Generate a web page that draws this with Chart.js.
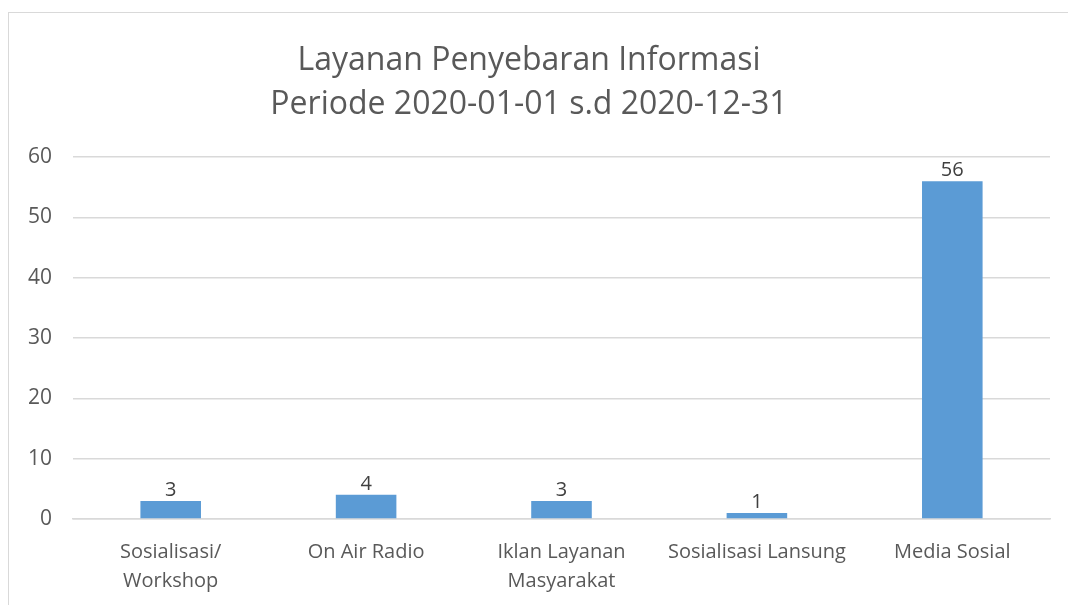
<!DOCTYPE html>
<html>
<head>
<meta charset="utf-8">
<title>Layanan Penyebaran Informasi</title>
<script src="https://cdn.jsdelivr.net/npm/chart.js@4"></script>
<style>
    html, body { margin: 0; padding: 0; background: #fff; }
    #wrap { width: 1068px; height: 605px; position: relative; }
</style>
</head>
<body>
<div id="wrap"><canvas id="infoChart" width="1068" height="605"></canvas></div>
<script>
const categories = [
    ['Sosialisasi/', 'Workshop'],
    'On Air Radio',
    ['Iklan Layanan', 'Masyarakat'],
    'Sosialisasi Lansung',
    'Media Sosial'
];
const counts = [3, 4, 3, 1, 56];
const titleLines = ['Layanan Penyebaran Informasi', 'Periode 2020-01-01 s.d 2020-12-31'];

const FONT = "'Open Sans', 'Noto Sans', sans-serif";
const TEXT = '#595959';

// light frame around the whole chart
const framePlugin = {
    id: 'frame',
    beforeDraw(chart) {
        const ctx = chart.ctx;
        ctx.save();
        ctx.strokeStyle = '#d9d9d9';
        ctx.lineWidth = 1;
        ctx.strokeRect(8.5, 12.5, 1200, 800);
        ctx.restore();
    }
};

// value printed above each bar
const valueLabels = {
    id: 'valueLabels',
    afterDatasetsDraw(chart) {
        const ctx = chart.ctx;
        const meta = chart.getDatasetMeta(0);
        ctx.save();
        ctx.font = '20px ' + FONT;
        ctx.fillStyle = '#404040';
        ctx.textAlign = 'center';
        ctx.textBaseline = 'bottom';
        meta.data.forEach((bar, i) => {
            ctx.fillText(String(counts[i]), bar.x, bar.y - 1);
        });
        ctx.restore();
    }
};

new Chart(document.getElementById('infoChart'), {
    type: 'bar',
    data: {
        labels: categories,
        datasets: [{
            data: counts,
            backgroundColor: '#5b9bd5',
            borderWidth: 0,
            categoryPercentage: 1,
            barPercentage: 0.31
        }]
    },
    options: {
        responsive: false,
        animation: false,
        layout: { padding: { left: 8, right: 18, top: 0, bottom: 0 } },
        plugins: {
            legend: { display: false },
            tooltip: { enabled: false },
            title: {
                display: true,
                text: titleLines,
                color: TEXT,
                font: { family: FONT, size: 32, weight: 'normal', lineHeight: 1.375 },
                padding: { top: 39, bottom: 30 }
            }
        },
        scales: {
            y: {
                min: 0,
                max: 60,
                ticks: {
                    stepSize: 10,
                    color: TEXT,
                    padding: 21,
                    font: { family: FONT, size: 21 }
                },
                grid: { color: '#d9d9d9', lineWidth: 1.5, drawTicks: false },
                border: { display: false },
                afterFit(scale) { scale.width = 65; }
            },
            x: {
                ticks: {
                    color: TEXT,
                    padding: 19,
                    maxRotation: 0,
                    font: { family: FONT, size: 20, lineHeight: 1.45 }
                },
                grid: { display: false, drawTicks: false },
                border: { color: '#d9d9d9', width: 1.5 },
                afterFit(scale) { scale.height = 86; }
            }
        }
    },
    plugins: [framePlugin, valueLabels]
});
</script>
</body>
</html>
